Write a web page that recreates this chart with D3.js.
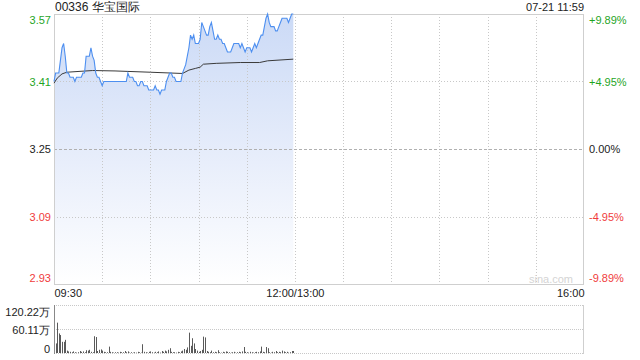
<!DOCTYPE html>
<html>
<head>
<meta charset="utf-8">
<script src="https://cdn.jsdelivr.net/npm/d3@7/dist/d3.min.js"></script>
<style>
html,body{margin:0;padding:0;background:#fff;}
svg{display:block;font-family:"Liberation Sans",Arial,sans-serif;}
</style>
</head>
<body>
<svg id="chart" width="640" height="360"></svg>
<script>
const title = "00336 华宝国际";
const stamp = "07-21 11:59";
const priceTicks = [3.57, 3.41, 3.25, 3.09, 2.93];
const pctLabels = ["+9.89%", "+4.95%", "0.00%", "-4.95%", "-9.89%"];
const timeTicks = [0, 150, 330];
const timeLabels = ["09:30", "12:00/13:00", "16:00"];
const volTicks = [120.22, 60.11, 0];
const volLabels = ["120.22万", "60.11万", "0"];
const prevClose = 3.25;

// minute-by-minute price from 09:30 to 11:59
const prices = [
 3.41,3.43,3.43,3.43,3.46,3.49,3.50,3.47,3.43,3.43,
 3.42,3.42,3.42,3.41,3.42,3.42,3.42,3.42,3.43,3.43,
 3.47,3.47,3.47,3.49,3.47,3.46,3.43,3.42,3.42,3.41,
 3.40,3.41,3.41,3.41,3.41,3.41,3.41,3.41,3.41,3.41,
 3.41,3.41,3.41,3.41,3.41,3.41,3.43,3.42,3.42,3.42,
 3.41,3.41,3.40,3.40,3.41,3.41,3.40,3.40,3.40,3.39,
 3.39,3.39,3.39,3.40,3.39,3.39,3.38,3.39,3.39,3.39,
 3.41,3.42,3.43,3.43,3.42,3.42,3.41,3.41,3.41,3.41,
 3.43,3.44,3.45,3.47,3.49,3.52,3.51,3.52,3.50,3.50,
 3.50,3.51,3.55,3.54,3.53,3.52,3.52,3.54,3.55,3.53,
 3.51,3.51,3.52,3.51,3.51,3.50,3.50,3.49,3.48,3.48,
 3.48,3.49,3.50,3.50,3.50,3.50,3.49,3.50,3.49,3.48,
 3.49,3.49,3.49,3.48,3.49,3.50,3.49,3.50,3.51,3.52,
 3.52,3.54,3.56,3.57,3.55,3.54,3.54,3.54,3.53,3.53,
 3.54,3.55,3.56,3.56,3.56,3.56,3.55,3.56,3.57,3.57
];

// average price line, read at its vertices
const avgMinutes = [0, 2, 5, 8, 24, 38, 60, 80, 84, 88, 91, 93, 101, 116, 128, 133, 149];
const avgValues  = [3.406, 3.418, 3.428, 3.432, 3.436, 3.435, 3.432, 3.429, 3.437, 3.441, 3.444, 3.451, 3.453, 3.455, 3.455, 3.459, 3.463];

// volume per minute (万)
const volumes = [
 120.22,24,76,49,45,28,28,33,6,4,
 3,2,4,2,1,2,5,3,4,2,
 7,6,8,3,2,42,40,5,8,9,
 6,3,2,2,16,3,2,1,2,2,
 1,3,2,2,5,2,4,1,2,1,
 2,1,3,2,1,22,3,2,1,3,
 4,2,1,3,2,4,1,5,3,6,
 4,8,12,3,2,2,1,3,2,4,
 6,10,8,14,51,18,37,24,10,6,
 3,5,8,41,39,5,3,2,6,2,
 3,2,7,2,1,3,2,4,3,2,
 1,2,3,1,2,3,2,4,15,3,
 2,1,3,2,1,2,3,2,4,16,
 3,2,15,12,2,1,3,2,5,2,
 3,2,6,4,2,3,1,2,5,5
];

const svg = d3.select("#chart");
const L = 54, R = 584, T = 14, B = 284;
const VT = 305, VB = 353;

const x = d3.scaleLinear().domain([0, 330]).range([L, R]);
const y = d3.scaleLinear().domain([2.93, 3.57]).range([B, T]);
const yv = d3.scaleLinear().domain([0, 120.22]).range([VB, VT]);

const GREEN = "#1fa51f", RED = "#f03c3c", DARK = "#222";
const colorFor = v => v > prevClose + 1e-9 ? GREEN : (v < prevClose - 1e-9 ? RED : DARK);

// gradient
const defs = svg.append("defs");
const grad = defs.append("linearGradient").attr("id", "fillGrad")
  .attr("gradientUnits", "userSpaceOnUse").attr("x1", 0).attr("x2", 0).attr("y1", T).attr("y2", B);
grad.append("stop").attr("offset", "0%").attr("stop-color", "#cbdaf6");
grad.append("stop").attr("offset", "55%").attr("stop-color", "#e8eefb");
grad.append("stop").attr("offset", "100%").attr("stop-color", "#ffffff");

const pts = prices.map((p, i) => [i, p]);

// area
svg.append("path").datum(pts)
  .attr("fill", "url(#fillGrad)")
  .attr("d", d3.area().x(d => x(d[0])).y0(B).y1(d => y(d[1])));

// grid lines
const vGrid = d3.range(30, 330, 30);
svg.append("g").selectAll("line").data(vGrid).join("line")
  .attr("x1", d => Math.round(x(d)) + 0.5).attr("x2", d => Math.round(x(d)) + 0.5)
  .attr("y1", T).attr("y2", B)
  .attr("stroke", "#c8c8c8").attr("stroke-dasharray", "1,2");
svg.append("g").selectAll("line").data(priceTicks.slice(1, 4)).join("line")
  .attr("x1", L).attr("x2", R)
  .attr("y1", d => Math.round(y(d)) + 0.5).attr("y2", d => Math.round(y(d)) + 0.5)
  .attr("stroke", d => d === prevClose ? "#b0b0b0" : "#c8c8c8")
  .attr("stroke-dasharray", d => d === prevClose ? "3,2" : "1,2");

// frame
svg.append("rect").attr("x", L + 0.5).attr("y", T + 0.5).attr("width", R - L - 1).attr("height", B - T)
  .attr("fill", "none").attr("stroke", "#cfcfcf");

// watermark
svg.append("text").attr("x", 573).attr("y", 283).attr("text-anchor", "end")
  .attr("font-size", 11).attr("fill", "#d4d4d4").text("sina.com");

// avg line
svg.append("path").datum(avgMinutes.map((m, i) => [m, avgValues[i]]))
  .attr("fill", "none").attr("stroke", "#3a3a3a").attr("stroke-width", 1)
  .attr("d", d3.line().x(d => x(d[0])).y(d => y(d[1])));

// price line
svg.append("path").datum(pts)
  .attr("fill", "none").attr("stroke", "#4d8ff0").attr("stroke-width", 1.1)
  .attr("d", d3.line().x(d => x(d[0])).y(d => y(d[1])));

// left axis (price)
const nudge = (v, top, bottom) => v === top ? 6 : (v === bottom ? -6 : 0);
const gl = svg.append("g").attr("transform", `translate(${L},0)`)
  .call(d3.axisLeft(y).tickValues(priceTicks).tickSize(0).tickPadding(3).tickFormat(d3.format(".2f")));
gl.select(".domain").remove();
gl.selectAll("text").attr("font-size", 11).attr("font-family", "Liberation Sans, Arial, sans-serif")
  .attr("fill", d => colorFor(d))
  .attr("transform", d => `translate(0,${nudge(d, 3.57, 2.93)})`);

// right axis (percent)
const gr = svg.append("g").attr("transform", `translate(${R},0)`)
  .call(d3.axisRight(y).tickValues(priceTicks).tickSize(0).tickPadding(5)
    .tickFormat((d, i) => pctLabels[i]));
gr.select(".domain").remove();
gr.selectAll("text").attr("font-size", 11).attr("font-family", "Liberation Sans, Arial, sans-serif")
  .attr("fill", d => colorFor(d))
  .attr("transform", d => `translate(0,${nudge(d, 3.57, 2.93)})`);

// time axis
const gx = svg.append("g").attr("transform", `translate(0,${B})`)
  .call(d3.axisBottom(x).tickValues(timeTicks).tickSize(0).tickPadding(5)
    .tickFormat((d, i) => timeLabels[i]));
gx.select(".domain").remove();
gx.selectAll("text").attr("font-size", 11).attr("font-family", "Liberation Sans, Arial, sans-serif")
  .attr("fill", "#222")
  .attr("text-anchor", d => d === 0 ? "start" : (d === 330 ? "end" : "middle"));

// title and stamp
svg.append("text").attr("x", L + 1).attr("y", 11).attr("font-size", 12).attr("fill", "#222").text(title);
svg.append("text").attr("x", R).attr("y", 11).attr("font-size", 11).attr("fill", "#222")
  .attr("text-anchor", "end").text(stamp);

// volume panel
svg.append("g").selectAll("line").data(volTicks).join("line")
  .attr("x1", L).attr("x2", R)
  .attr("y1", d => Math.round(yv(d)) + 0.5).attr("y2", d => Math.round(yv(d)) + 0.5)
  .attr("stroke", "#c8c8c8").attr("stroke-dasharray", "1,1");
svg.append("line").attr("x1", R - 0.5).attr("x2", R - 0.5).attr("y1", VT).attr("y2", VB + 1)
  .attr("stroke", "#cfcfcf");

svg.append("g").selectAll("rect").data(volumes).join("rect")
  .attr("x", (d, i) => Math.round(x(i)))
  .attr("width", 1)
  .attr("y", d => yv(d))
  .attr("height", d => VB - yv(d))
  .attr("fill", "#5a5a5a");

svg.append("line").attr("x1", L + 0.5).attr("x2", L + 0.5).attr("y1", VT).attr("y2", VB + 1)
  .attr("stroke", "#888");

const gv = svg.append("g").attr("transform", `translate(${L},0)`)
  .call(d3.axisLeft(yv).tickValues(volTicks).tickSize(0).tickPadding(4)
    .tickFormat((d, i) => volLabels[i]));
gv.select(".domain").remove();
gv.selectAll("text").attr("font-size", 11).attr("font-family", "Liberation Sans, Arial, sans-serif")
  .attr("fill", "#222")
  .attr("transform", d => `translate(0,${d === 120.22 ? 7 : (d === 0 ? -4 : 1)})`);
</script>
</body>
</html>
